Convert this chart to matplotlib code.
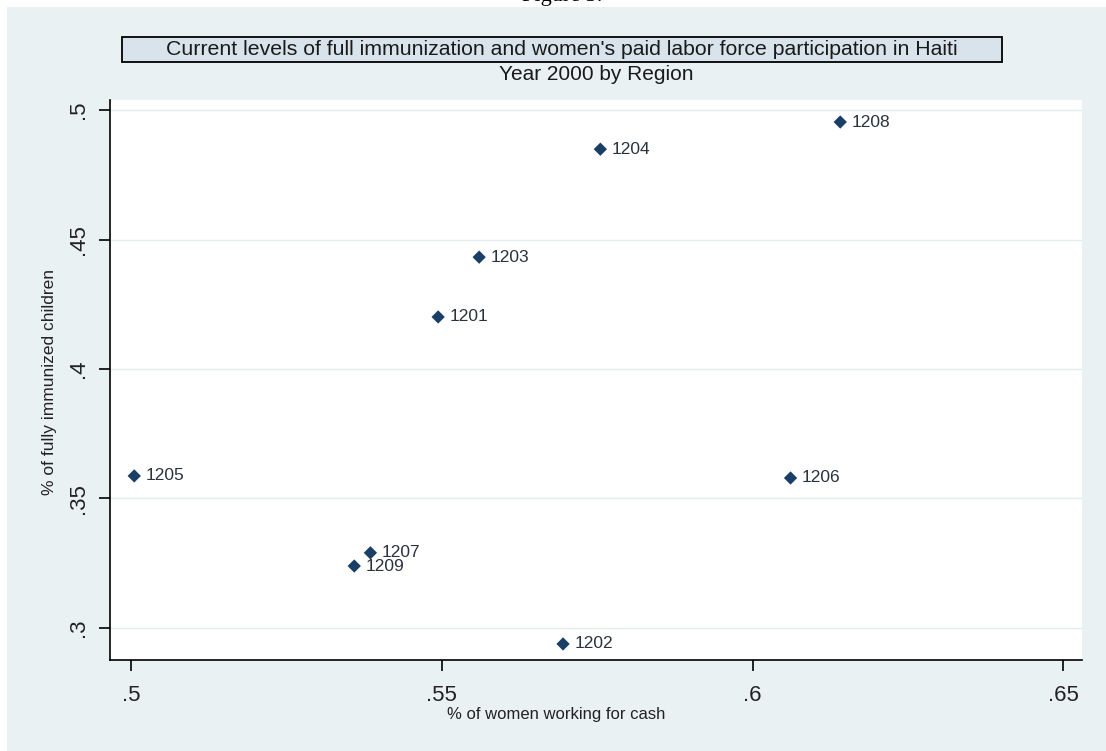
import matplotlib
matplotlib.use("Agg")
import matplotlib.pyplot as plt
from matplotlib.patches import Rectangle

# Regional data, Haiti 2000
regions = ["1201", "1202", "1203", "1204", "1205", "1206", "1207", "1208", "1209"]
pct_women_cash = [0.5494, 0.5695, 0.5560, 0.5755, 0.5005, 0.6061, 0.5385, 0.6141, 0.5359]
pct_immunized = [0.4201, 0.2938, 0.4432, 0.4849, 0.3587, 0.3579, 0.3290, 0.4954, 0.3239]

x_ticks = [0.50, 0.55, 0.60, 0.65]
x_tick_labels = [".5", ".55", ".6", ".65"]
y_ticks = [0.30, 0.35, 0.40, 0.45, 0.50]
y_tick_labels = [".3", ".35", ".4", ".45", ".5"]

title = "Current levels of full immunization and women's paid labor force participation in Haiti"
subtitle = "Year 2000 by Region"
x_label = "% of women working for cash"
y_label = "% of fully immunized children"

W, H = 1106, 751
fig = plt.figure(figsize=(W / 100, H / 100), dpi=100)
fig.patch.set_facecolor("white")

sans = ["Liberation Sans", "DejaVu Sans"]
navy = "#1a3f66"
bg = "#eaf1f3"


def fx(px):
    return px / W


def fy(py):
    return 1 - py / H


# graph region background
fig.patches.append(Rectangle((fx(7), 0), 1 - fx(7), fy(7), transform=fig.transFigure,
                             facecolor=bg, edgecolor="none", zorder=-10))

# caption above the graph, mostly cut off at the top edge
fig.text(fx(562), fy(1.5), "Figure 3.", ha="center", va="baseline",
         family="Liberation Serif", fontsize=16, color="black", zorder=-5)

# title box
fig.patches.append(Rectangle((fx(122), fy(62)), fx(1002) - fx(122), fy(37) - fy(62),
                             transform=fig.transFigure, facecolor="#d8e3ec",
                             edgecolor="black", linewidth=1.3, zorder=1))
fig.text(fx(562), fy(49.5), title, ha="center", va="center", family=sans,
         fontsize=15.3, color="#1a1a1a", zorder=2)
fig.text(fx(596), fy(75), subtitle, ha="center", va="center", family=sans,
         fontsize=15, color="#1a1a1a", zorder=2)

left, right, top, bottom = 110, 1082, 100, 660
ax = fig.add_axes([fx(left), fy(bottom), fx(right) - fx(left), fy(top) - fy(bottom)])
ax.set_facecolor("white")
ax.set_zorder(5)

ax.set_xlim(0.4966, 0.6530)
ax.set_ylim(0.2876, 0.5039)

for v in y_ticks:
    ax.axhline(v, color="#e4ecef", linewidth=1.0, zorder=1)

ax.scatter(pct_women_cash, pct_immunized, marker="D", s=46, color=navy,
           edgecolors="none", zorder=3)
for name, xv, yv in zip(regions, pct_women_cash, pct_immunized):
    ax.annotate(name, (xv, yv), xytext=(8, 0), textcoords="offset points",
                ha="left", va="center", family=sans,
                fontsize=12.5, color="#2a323c", zorder=4)

for side in ("top", "right"):
    ax.spines[side].set_visible(False)
for side in ("left", "bottom"):
    ax.spines[side].set_color("black")
    ax.spines[side].set_linewidth(1.2)

ax.set_xticks(x_ticks)
ax.set_xticklabels(x_tick_labels, family=sans, fontsize=16, color="#222222")
ax.set_yticks(y_ticks)
ax.set_yticklabels(y_tick_labels, family=sans, fontsize=16, color="#222222",
                   rotation=90, va="center")
ax.tick_params(axis="both", direction="out", length=8, width=1.2, color="black")
ax.tick_params(axis="x", pad=10)
ax.tick_params(axis="y", pad=7)

fig.text(fx(556), fy(714), x_label, ha="center", va="center", family=sans,
         fontsize=12, color="#222222")
fig.text(fx(50), fy(382), y_label, ha="center", va="center", rotation=90,
         family=sans, fontsize=12.5, color="#222222")

fig.savefig("out.png", dpi=100, facecolor=fig.get_facecolor())
